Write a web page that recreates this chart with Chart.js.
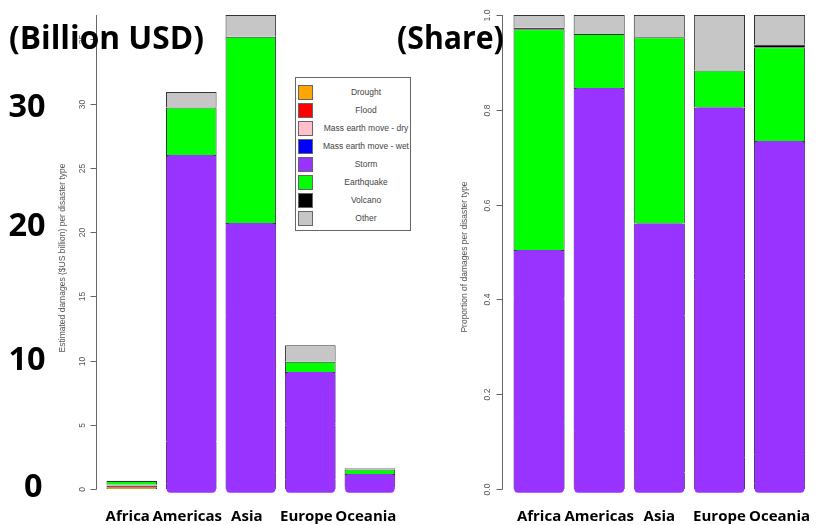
<!DOCTYPE html>
<html>
<head>
<meta charset="utf-8">
<script src="https://cdn.jsdelivr.net/npm/chart.js@4/dist/chart.umd.min.js"></script>
<style>
html,body{margin:0;padding:0;background:#fff;}
#wrap{position:relative;width:830px;height:525px;overflow:hidden;background:#fff;}
canvas{position:absolute;top:0;}
#cLeft{left:0;}
#cRight{left:420px;}
.big{position:absolute;font-family:"Open Sans";font-weight:700;color:#000;white-space:nowrap;transform-origin:0 0;z-index:5;}
#legend{position:absolute;left:295px;top:77px;width:116px;height:154px;border:1px solid #666;box-sizing:border-box;background:#fff;z-index:3;}
.sw{position:absolute;left:2px;width:15px;height:15px;box-sizing:border-box;border:1px solid #666;}
.lt{position:absolute;left:10px;width:120px;text-align:center;font-family:"Liberation Sans";font-size:8.5px;line-height:15px;color:#444;white-space:nowrap;}
</style>
</head>
<body>
<div id="wrap">
  <canvas id="cLeft" width="420" height="525"></canvas>
  <canvas id="cRight" width="410" height="525"></canvas>
  <div id="legend"></div>
</div>
<script>
// ---------------- DATA ----------------
const regions = ['Africa', 'Americas', 'Asia', 'Europe', 'Oceania'];
const disasterTypes = ['Drought', 'Flood', 'Mass earth move - dry', 'Mass earth move - wet', 'Storm', 'Earthquake', 'Volcano', 'Other'];

// Estimated damages ($US billion)
const droughtBn = [0.09, 0.45, 1.3, 0.75, 0.02];
const floodBn   = [0.17, 3.25, 12.2, 4.2, 0.10];
const massDryBn = [0, 0, 0, 0, 0];
const massWetBn = [0.003, 0.02, 0.05, 0.12, 0];
const stormBn   = [0.065, 22.28, 7.15, 4.03, 1.05];
const quakeBn   = [0.303, 3.7, 14.5, 0.8, 0.34];
const volcanoBn = [0.002, 0, 0, 0, 0.01];
const otherBn   = [0.018, 1.2, 1.7, 1.3, 0.10];

// Proportion of damages
const droughtSh = [0.14, 0.015, 0.035, 0.066, 0.012];
const floodSh   = [0.26, 0.105, 0.33, 0.376, 0.06];
const massDrySh = [0, 0, 0, 0, 0];
const massWetSh = [0.004, 0.001, 0.001, 0.012, 0];
const stormSh   = [0.10, 0.725, 0.194, 0.351, 0.662];
const quakeSh   = [0.466, 0.114, 0.393, 0.078, 0.198];
const volcanoSh = [0.003, 0, 0, 0, 0.006];
const otherSh   = [0.027, 0.04, 0.047, 0.117, 0.062];

// which bars carry the purple highlight over their lower part
const coveredLeft  = [false, true, true, true, true];
const coveredRight = [true, true, true, true, true];

const leftTicks  = [0, 5, 10, 15, 20, 25, 30, 35];
const rightTicks = [0, 0.2, 0.4, 0.6, 0.8, 1.0];
const rightTickLabels = ['0.0', '0.2', '0.4', '0.6', '0.8', '1.0'];
const bigLeftTicks = ['30', '20', '10', '0'];

// ---------------- STYLE ----------------
const typeColors = ['#FFA500', '#FF0000', '#FFC0CB', '#0000FF', '#9933FF', '#00FF00', '#000000', '#C6C6C6'];
const coverColor = '#9933FF';

// ---------------- HELPERS ----------------
function buildSets(series, coverBase, covered) {
  const sets = series.map((vals, k) => ({
    label: disasterTypes[k],
    data: vals,
    backgroundColor: typeColors[k],
    borderColor: '#333',
    borderWidth: {top: 1, left: 1, right: 1, bottom: 0},
    borderSkipped: false,
    barPercentage: 0.85,
    categoryPercentage: 1,
    order: 1
  }));
  // purple cover over the lower part of each bar (up to the top of the storm segment)
  const coverTop = regions.map((_, i) => series.slice(0, 5).reduce((s, arr) => s + arr[i], 0));
  sets.push({
    label: 'cover',
    data: coverTop.map((t, i) => covered[i] ? [coverBase, t] : null),
    backgroundColor: coverColor,
    borderWidth: 0,
    borderRadius: 4,
    borderSkipped: false,
    grouped: false,
    stack: 'cover',
    barPercentage: 0.83,
    categoryPercentage: 1,
    clip: false,
    order: -1
  });
  return sets;
}

const rAxisPlugin = {
  id: 'rAxis',
  afterDraw(chart, args, o) {
    const ctx = chart.ctx, ys = chart.scales.y, a = chart.chartArea;
    ctx.save();
    ctx.strokeStyle = '#666';
    ctx.lineWidth = 1;
    const x0 = o.axisX + 0.5;
    ctx.beginPath();
    ctx.moveTo(x0, Math.round(ys.getPixelForValue(o.ticks[0])) + 0.5);
    ctx.lineTo(x0, a.top);
    ctx.stroke();
    ctx.fillStyle = '#555';
    ctx.font = '8.5px "Liberation Sans"';
    ctx.textAlign = 'center';
    ctx.textBaseline = 'middle';
    o.ticks.forEach((v, i) => {
      const py = Math.round(ys.getPixelForValue(v)) + 0.5;
      ctx.beginPath();
      ctx.moveTo(x0 - o.tickLen, py);
      ctx.lineTo(x0, py);
      ctx.stroke();
      ctx.save();
      ctx.translate(o.labelX, py);
      ctx.rotate(-Math.PI / 2);
      ctx.fillText(o.labels[i], 0, 0);
      ctx.restore();
    });
    ctx.save();
    ctx.translate(o.titleX, (a.top + a.bottom) / 2 + o.titleDy);
    ctx.rotate(-Math.PI / 2);
    ctx.fillText(o.title, 0, 0);
    ctx.restore();
    ctx.restore();
  }
};

function makeChart(id, series, opts) {
  return new Chart(document.getElementById(id), {
    type: 'bar',
    data: {labels: regions, datasets: buildSets(series, opts.coverBase, opts.covered)},
    plugins: [rAxisPlugin],
    options: {
      responsive: false,
      animation: false,
      devicePixelRatio: 1,
      layout: {padding: opts.padding},
      plugins: {
        legend: {display: false},
        tooltip: {enabled: false},
        rAxis: opts.axis
      },
      scales: {
        x: {
          stacked: true,
          grid: {display: false, drawTicks: false},
          border: {display: false},
          ticks: {
            color: '#000',
            font: {family: '"Open Sans"', weight: 'bold', size: 15},
            padding: 19,
            labelOffset: opts.labelOffset,
            maxRotation: 0,
            autoSkip: false
          },
          afterFit: s => { s.height = 36; }
        },
        y: {
          stacked: true,
          display: false,
          min: 0,
          max: opts.max
        }
      }
    }
  });
}

// ---------------- CHARTS ----------------
makeChart('cLeft',
  [droughtBn, floodBn, massDryBn, massWetBn, stormBn, quakeBn, volcanoBn, otherBn],
  {
    coverBase: -0.3, max: 36.9, labelOffset: -4, covered: coveredLeft,
    padding: {left: 102, right: 6, top: 15, bottom: 0},
    axis: {axisX: 96, tickLen: 6, labelX: 83, titleX: 63, titleDy: 6,
           ticks: leftTicks, labels: leftTicks.map(String),
           title: 'Estimated damages ($US billion) per disaster type'}
  });

makeChart('cRight',
  [droughtSh, floodSh, massDrySh, massWetSh, stormSh, quakeSh, volcanoSh, otherSh],
  {
    coverBase: -0.008, max: 1, labelOffset: 0, covered: coveredRight,
    padding: {left: 89, right: 9, top: 15, bottom: 0},
    axis: {axisX: 82, tickLen: 6, labelX: 68, titleX: 45, titleDy: 5,
           ticks: rightTicks, labels: rightTickLabels,
           title: 'Proportion of damages per disaster type'}
  });

// ---------------- LEGEND ----------------
const legend = document.getElementById('legend');
disasterTypes.forEach((name, k) => {
  const sw = document.createElement('div');
  sw.className = 'sw';
  sw.style.top = (7 + 18 * k) + 'px';
  sw.style.background = typeColors[k];
  legend.appendChild(sw);
  const t = document.createElement('div');
  t.className = 'lt';
  t.style.top = (7 + 18 * k) + 'px';
  t.textContent = name;
  legend.appendChild(t);
});

// ---------------- BIG OVERLAY TEXT ----------------
const wrap = document.getElementById('wrap');
function placeInk(text, box) {
  const el = document.createElement('div');
  el.className = 'big';
  el.textContent = text;
  const fam = '"Open Sans"';
  const c = document.createElement('canvas').getContext('2d');
  c.font = `700 100px ${fam}`;
  let m = c.measureText(text);
  const size = 100 * box.h / (m.actualBoundingBoxAscent + m.actualBoundingBoxDescent);
  c.font = `700 ${size}px ${fam}`;
  m = c.measureText(text);
  const inkW = m.actualBoundingBoxLeft + m.actualBoundingBoxRight;
  const sx = box.w ? box.w / inkW : 1;
  const fA = m.fontBoundingBoxAscent, fD = m.fontBoundingBoxDescent;
  const L = size;
  const baseOff = (L - (fA + fD)) / 2 + fA;
  const baseline = box.y + m.actualBoundingBoxAscent;
  el.style.fontSize = size + 'px';
  el.style.lineHeight = L + 'px';
  el.style.top = (baseline - baseOff) + 'px';
  let left;
  if (box.right !== undefined) left = box.right - m.actualBoundingBoxRight;
  else left = box.x + sx * m.actualBoundingBoxLeft;
  el.style.left = left + 'px';
  if (sx !== 1) el.style.transform = `scaleX(${sx})`;
  wrap.appendChild(el);
}
placeInk('(Billion USD)', {x: 10, y: 25, w: 193, h: 30});
placeInk('(Share)', {x: 398, y: 25, w: 105, h: 30});
const bigTickBoxes = [{right: 45, y: 95, h: 24}, {right: 45, y: 214, h: 24}, {right: 45, y: 348, h: 24}, {right: 42, y: 475, h: 24}];
bigLeftTicks.forEach((t, i) => placeInk(t, bigTickBoxes[i]));
</script>
</body>
</html>
